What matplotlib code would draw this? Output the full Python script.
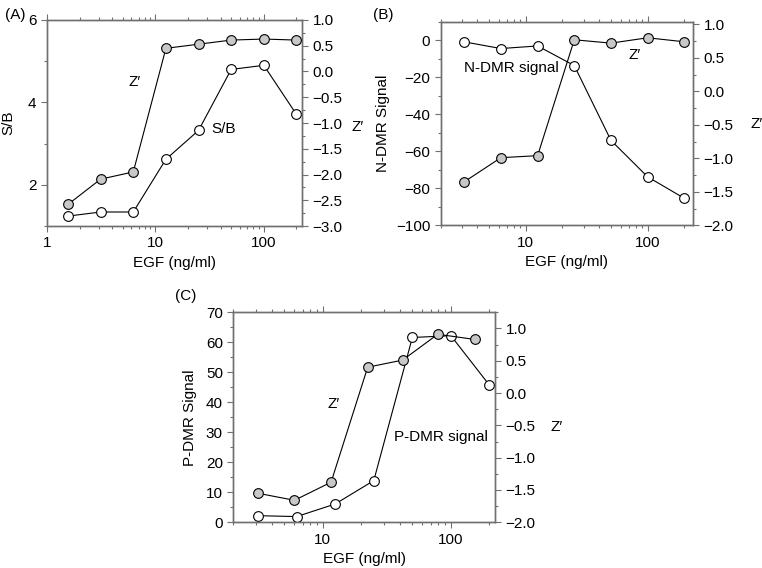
import numpy as np
import matplotlib
matplotlib.use('Agg')
import matplotlib.pyplot as plt
from matplotlib.ticker import FixedLocator, MultipleLocator, LogLocator, FuncFormatter, NullFormatter

plt.rcParams['font.family'] = ['Liberation Sans', 'DejaVu Sans']
plt.rcParams['font.size'] = 11

# panel A
egf_a = [1.5625, 3.125, 6.25, 12.5, 25, 50, 100, 200]
sb_a = [1.24, 1.34, 1.34, 2.62, 3.32, 4.80, 4.90, 3.71]
z_a = [-2.58, -2.09, -1.95, 0.45, 0.53, 0.61, 0.63, 0.61]

# panel B
egf_b = [3.125, 6.25, 12.5, 25, 50, 100, 200]
ndmr_b = [-0.9, -4.5, -3.1, -13.7, -54.1, -73.8, -85.4]
z_b = [-1.35, -0.99, -0.96, 0.77, 0.72, 0.80, 0.74]

# panel C
egf_c = [3.125, 6.25, 12.5, 25, 50, 100, 200]
pdmr_c = [2.2, 1.9, 6.1, 13.9, 61.6, 62.2, 45.7]
egf_cz = [3.1, 6.0, 11.6, 22.4, 42, 79, 153]
z_c = [-1.55, -1.66, -1.38, 0.40, 0.51, 0.91, 0.83]

spine_col = '#707070'
open_style = dict(color='black', lw=0.8, marker='o', ms=7, mfc='white', mec='black', mew=0.8)
fill_style = dict(color='black', lw=0.8, marker='o', ms=7, mfc='#c8c8c8', mec='black', mew=0.8)


def style_axes(ax, ax2):
    for a in (ax, ax2):
        for s in a.spines.values():
            s.set_color(spine_col)
            s.set_linewidth(1.0)
        a.tick_params(which='both', direction='out', color=spine_col, width=0.8)
        a.tick_params(which='major', length=4)
        a.tick_params(which='minor', length=2.5)
    ax.tick_params(axis='x', which='both', top=True)
    ax.xaxis.set_major_locator(LogLocator(base=10))
    ax.xaxis.set_minor_locator(LogLocator(base=10, subs=np.arange(2, 10)))
    ax.xaxis.set_major_formatter(FuncFormatter(lambda v, p: '%g' % v))
    ax.xaxis.set_minor_formatter(NullFormatter())


fig = plt.figure(figsize=(7.62, 5.68), dpi=100)

# (A)
ax = fig.add_axes([0.0617, 0.6021, 0.3346, 0.3627])
ax2 = ax.twinx()
ax.set_xscale('log')
ax.plot(egf_a, sb_a, **open_style, zorder=3)
ax2.plot(egf_a, z_a, **fill_style, zorder=3)
ax.set_xlim(1, 225)
ax.set_ylim(1, 6)
ax.yaxis.set_major_locator(FixedLocator([2, 4, 6]))
ax.yaxis.set_minor_locator(MultipleLocator(1))
ax2.set_ylim(-3, 1.0)
ax2.yaxis.set_major_locator(MultipleLocator(0.5))
ax2.yaxis.set_minor_locator(MultipleLocator(0.25))
ax2.yaxis.set_major_formatter(FuncFormatter(lambda v, p: ('%.1f' % v).replace('-', '\u2212')))
style_axes(ax, ax2)
ax.set_xlabel('EGF (ng/ml)')
ax.set_ylabel('S/B')
ax.yaxis.set_label_coords(-0.125, 0.5)
ax2.set_ylabel('Z\u2032', rotation=0, va='center', ha='center')
ax2.yaxis.set_label_coords(1.22, 0.48)
ax.text(6.47, 4.5, 'Z\u2032', ha='center', va='center')
ax.text(42.8, 3.35, 'S/B', ha='center', va='center')

# (B)
ax = fig.add_axes([0.5783, 0.6033, 0.3315, 0.3585])
ax2 = ax.twinx()
ax.set_xscale('log')
ax.plot(egf_b, ndmr_b, **open_style, zorder=3)
ax2.plot(egf_b, z_b, **fill_style, zorder=3)
ax.set_xlim(2, 237)
ax.set_ylim(-100, 10)
ax.yaxis.set_major_locator(MultipleLocator(20))
ax.yaxis.set_minor_locator(MultipleLocator(10))
ax2.set_ylim(-2, 1.04)
ax2.yaxis.set_major_locator(MultipleLocator(0.5))
ax2.yaxis.set_minor_locator(MultipleLocator(0.25))
ax2.yaxis.set_major_formatter(FuncFormatter(lambda v, p: ('%.1f' % v).replace('-', '\u2212')))
style_axes(ax, ax2)
ax.set_xlabel('EGF (ng/ml)')
ax.set_ylabel('N-DMR Signal')
ax.yaxis.set_label_coords(-0.20, 0.5)
ax2.set_ylabel('Z\u2032', rotation=0, va='center', ha='center')
ax2.yaxis.set_label_coords(1.25, 0.50)
ax.text(7.58, -14.9, 'N-DMR signal', ha='center', va='center')
ax.text(78.7, -8.1, 'Z\u2032', ha='center', va='center')

# (C)
ax = fig.add_axes([0.3062, 0.0805, 0.3434, 0.3697])
ax2 = ax.twinx()
ax.set_xscale('log')
ax.plot(egf_c, pdmr_c, **open_style, zorder=3)
ax2.plot(egf_cz, z_c, **fill_style, zorder=3)
ax.set_xlim(2, 221)
ax.set_ylim(0, 70)
ax.yaxis.set_major_locator(MultipleLocator(10))
ax.yaxis.set_minor_locator(MultipleLocator(5))
ax2.set_ylim(-2, 1.25)
ax2.yaxis.set_major_locator(MultipleLocator(0.5))
ax2.yaxis.set_minor_locator(MultipleLocator(0.25))
ax2.yaxis.set_major_formatter(FuncFormatter(lambda v, p: ('%.1f' % v).replace('-', '\u2212')))
style_axes(ax, ax2)
ax.set_xlabel('EGF (ng/ml)')
ax.set_ylabel('P-DMR Signal')
ax.yaxis.set_label_coords(-0.14, 0.5)
ax2.set_ylabel('Z\u2032', rotation=0, va='center', ha='center')
ax2.yaxis.set_label_coords(1.236, 0.455)
ax.text(12.2, 39.5, 'Z\u2032', ha='center', va='center')
ax.text(83.3, 28.4, 'P-DMR signal', ha='center', va='center')

# panel letters
fig.text(5 / 762, 1 - 15 / 568, '(A)', ha='left', va='center')
fig.text(373 / 762, 1 - 15 / 568, '(B)', ha='left', va='center')
fig.text(175 / 762, 1 - 296 / 568, '(C)', ha='left', va='center')

fig.savefig('out.png', dpi=100)
